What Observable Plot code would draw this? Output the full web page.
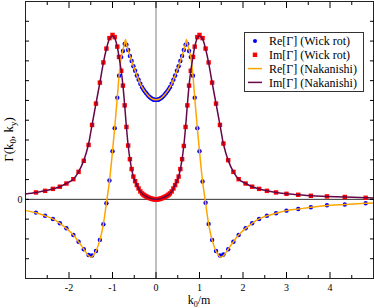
<!DOCTYPE html>
<html><head><meta charset="utf-8">
<script src="https://cdn.jsdelivr.net/npm/d3@7"></script>
<script src="https://cdn.jsdelivr.net/npm/@observablehq/plot@0.6"></script>
<style>html,body{margin:0;padding:0;background:#fff;}svg{display:block;}svg text{font-family:'Liberation Serif','Times New Roman',serif;}</style>
</head><body><div id="chart"></div>
<script>
// Wick-rotation points (k0/m, Re, Im)
const wickK = [-2.76, -2.55, -2.37, -2.21, -2.06, -1.90, -1.78, -1.66, -1.55, -1.47, -1.38, -1.29, -1.21, -1.14, -1.07, -1.00, -0.95, -0.89, -0.85, -0.80, -0.76, -0.72, -0.68, -0.64, -0.60, -0.56, -0.52, -0.48, -0.44, -0.40, -0.36, -0.32, -0.29, -0.26, -0.23, -0.20, -0.17, -0.14, -0.11, -0.08, -0.06, -0.04, -0.02,
  0, 0.02, 0.04, 0.06, 0.08, 0.11, 0.14, 0.17, 0.20, 0.23, 0.26, 0.29, 0.32, 0.36, 0.40, 0.44, 0.48, 0.52, 0.56, 0.60, 0.64, 0.68, 0.72, 0.76, 0.80, 0.85, 0.89, 0.95, 1.00, 1.07, 1.14, 1.21, 1.29, 1.38, 1.47, 1.55, 1.66, 1.78, 1.90, 2.06, 2.21, 2.37, 2.55, 2.76, 3.00, 3.27, 3.56, 3.93, 4.34, 4.82];
const wickRe = [-0.67, -0.83, -0.99, -1.21, -1.46, -1.80, -2.14, -2.52, -2.81, -2.84, -2.61, -2.05, -1.26, -0.20, 0.95, 2.43, 3.60, 5.14, 6.25, 7.19, 7.50, 7.85, 7.82, 7.55, 7.25, 6.99, 6.73, 6.50, 6.26, 6.05, 5.84, 5.67, 5.56, 5.46, 5.38, 5.30, 5.22, 5.16, 5.11, 5.07, 5.05, 5.04, 5.03,
  5.03, 5.03, 5.04, 5.05, 5.07, 5.11, 5.16, 5.22, 5.30, 5.38, 5.46, 5.56, 5.67, 5.84, 6.05, 6.26, 6.50, 6.73, 6.99, 7.25, 7.55, 7.82, 7.85, 7.50, 7.19, 6.25, 5.14, 3.60, 2.43, 0.90, -0.17, -1.24, -2.05, -2.61, -2.84, -2.79, -2.52, -2.14, -1.80, -1.46, -1.21, -0.99, -0.83, -0.70, -0.57, -0.49, -0.40, -0.30, -0.26, -0.20];
const wickIm = [0.35, 0.43, 0.53, 0.64, 0.80, 1.02, 1.39, 1.95, 2.75, 3.76, 4.84, 5.90, 6.92, 7.62, 8.15, 8.31, 8.20, 7.72, 7.20, 6.50, 5.75, 4.75, 3.66, 2.72, 2.03, 1.53, 1.15, 0.92, 0.72, 0.55, 0.40, 0.30, 0.24, 0.19, 0.15, 0.12, 0.09, 0.06, 0.04, 0.02, 0.01, 0.01, 0.00,
  0.00, 0.00, 0.01, 0.01, 0.02, 0.04, 0.06, 0.09, 0.12, 0.15, 0.19, 0.24, 0.30, 0.40, 0.55, 0.72, 0.92, 1.15, 1.53, 2.03, 2.70, 3.66, 4.75, 5.75, 6.50, 7.20, 7.72, 8.20, 8.31, 8.15, 7.62, 6.92, 5.90, 4.84, 3.76, 2.82, 1.98, 1.39, 1.02, 0.80, 0.64, 0.53, 0.43, 0.35, 0.28, 0.23, 0.18, 0.15, 0.12, 0.08];

// Nakanishi curves
const nakK = [-3.00, -2.76, -2.55, -2.37, -2.21, -2.06, -1.90, -1.78, -1.66, -1.55, -1.50, -1.47, -1.38, -1.29, -1.21, -1.14, -1.07, -1.00, -0.95, -0.89, -0.85, -0.80, -0.76, -0.72, -0.70, -0.68, -0.64, -0.60, -0.56, -0.52, -0.48, -0.44, -0.40, -0.36, -0.32, -0.26, -0.20, -0.14, -0.08,
  0,
  0.08, 0.14, 0.20, 0.26, 0.32, 0.36, 0.40, 0.44, 0.48, 0.52, 0.56, 0.60, 0.64, 0.68, 0.70, 0.72, 0.76, 0.80, 0.85, 0.89, 0.95, 1.00, 1.07, 1.14, 1.21, 1.29, 1.38, 1.47, 1.50, 1.55, 1.66, 1.78, 1.90, 2.06, 2.21, 2.37, 2.55, 2.76, 3.00, 3.27, 3.56, 3.93, 4.34, 4.82, 5.00];
const nakRe = [-0.57, -0.68, -0.83, -0.99, -1.21, -1.47, -1.80, -2.14, -2.52, -2.85, -2.92, -2.90, -2.62, -2.05, -1.25, -0.18, 0.92, 2.43, 3.62, 5.14, 6.22, 7.19, 7.55, 7.90, 8.08, 7.85, 7.55, 7.25, 6.99, 6.73, 6.50, 6.26, 6.05, 5.84, 5.67, 5.46, 5.30, 5.16, 5.07,
  5.03,
  5.07, 5.16, 5.30, 5.46, 5.67, 5.84, 6.05, 6.26, 6.50, 6.73, 6.99, 7.25, 7.55, 7.85, 8.08, 7.90, 7.55, 7.19, 6.22, 5.14, 3.62, 2.43, 0.92, -0.18, -1.25, -2.05, -2.62, -2.90, -2.92, -2.85, -2.52, -2.14, -1.80, -1.47, -1.21, -0.99, -0.83, -0.70, -0.57, -0.49, -0.40, -0.31, -0.26, -0.20, -0.18];
const nakIm = [0.27, 0.35, 0.43, 0.53, 0.64, 0.80, 1.02, 1.39, 1.97, 2.80, 3.40, 3.76, 4.84, 5.90, 6.90, 7.60, 8.10, 8.25, 8.15, 7.70, 7.20, 6.50, 5.75, 4.75, 4.20, 3.66, 2.72, 2.03, 1.53, 1.15, 0.92, 0.72, 0.55, 0.40, 0.30, 0.19, 0.12, 0.06, 0.02,
  0.00,
  0.02, 0.06, 0.12, 0.19, 0.30, 0.40, 0.55, 0.72, 0.92, 1.15, 1.53, 2.03, 2.72, 3.66, 4.20, 4.75, 5.75, 6.50, 7.20, 7.70, 8.15, 8.25, 8.10, 7.60, 6.90, 5.90, 4.84, 3.76, 3.40, 2.80, 1.97, 1.39, 1.02, 0.80, 0.64, 0.53, 0.43, 0.35, 0.28, 0.23, 0.18, 0.15, 0.12, 0.08, 0.07];

const xMajorTicks = [-2, -1, 0, 1, 2, 3, 4];
const xMinorTicks = [-2.5, -1.5, -0.5, 0.5, 1.5, 2.5, 3.5, 4.5];
const xTickLabels = [-2, -1, 0, 1, 2, 3, 4];
const yTicks = [-3, -2, -1, 0, 1, 2, 3, 4, 5, 6, 7, 8, 9];
const yTickLabels = [0];
const legendLabels = ["Re[Γ] (Wick rot)", "Im[Γ] (Wick rot)", "Re[Γ] (Nakanishi)", "Im[Γ] (Nakanishi)"];
const colors = {re: "#0000ff", im: "#ff0000", nakRe: "#ffa500", nakIm: "#670748"};

const wick = wickK.map((k, i) => ({k, re: wickRe[i], im: wickIm[i]}));
const nak = nakK.map((k, i) => ({k, re: nakRe[i], im: nakIm[i]}));

const font = "'Liberation Serif', 'Times New Roman', serif";
const noText = () => "";

const plot = Plot.plot({
  width: 374, height: 308,
  marginLeft: 25, marginRight: 1, marginTop: 1, marginBottom: 30,
  x: {domain: [-3, 5]},
  y: {domain: [-4, 10]},
  style: {fontFamily: font, fontSize: "10px", color: "black", background: "white", overflow: "visible"},
  marks: [
    Plot.ruleY([0], {stroke: "#333", strokeWidth: 1}),
    Plot.ruleX([0], {stroke: "#808080", strokeWidth: 1}),
    Plot.dot(wick, {x: "k", y: "re", r: 2.2, fill: colors.re, stroke: "none"}),
    Plot.dot(wick, {x: "k", y: "im", r: 2.5, symbol: "square", fill: colors.im, stroke: "none"}),
    Plot.line(nak, {x: "k", y: "re", stroke: colors.nakRe, strokeWidth: 1.5, curve: "catmull-rom"}),
    Plot.line(nak, {x: "k", y: "im", stroke: colors.nakIm, strokeWidth: 1.5, curve: "catmull-rom"}),
    Plot.frame({stroke: "#222"}),
    Plot.axisX(xMajorTicks, {anchor: "bottom", tickSize: -6, tickFormat: noText, label: null}),
    Plot.axisX(xMinorTicks, {anchor: "bottom", tickSize: -3, tickFormat: noText, label: null}),
    Plot.axisX(xMajorTicks, {anchor: "top", tickSize: -6, tickFormat: noText, label: null}),
    Plot.axisX(xMinorTicks, {anchor: "top", tickSize: -3, tickFormat: noText, label: null}),
    Plot.axisX(xTickLabels, {anchor: "bottom", tickSize: 0, tickPadding: 5, tickFormat: d => String(d), label: null, fontSize: 10}),
    Plot.axisY(yTicks, {anchor: "left", tickSize: -4, tickFormat: noText, label: null}),
    Plot.axisY(yTicks, {anchor: "right", tickSize: -4, tickFormat: noText, label: null}),
    Plot.axisY(yTickLabels, {anchor: "left", tickSize: 0, tickPadding: 3, tickFormat: d => String(d), label: null, fontSize: 10})
  ]
});
document.getElementById("chart").appendChild(plot);

const svg = d3.select(plot);
// axis titles with subscripts
const xl = svg.append("text").attr("x", 199).attr("y", 303.5).attr("text-anchor", "middle")
  .attr("font-family", font).attr("font-size", 12).attr("fill", "black");
xl.append("tspan").text("k");
xl.append("tspan").attr("dy", 3).attr("font-size", 8).text("0");
xl.append("tspan").attr("dy", -3).text("/m");

const yl = svg.append("text").attr("transform", "translate(12.5,139.5) rotate(-90)").attr("text-anchor", "middle")
  .attr("font-family", font).attr("font-size", 13).attr("fill", "black");
yl.append("tspan").text("Γ(k");
yl.append("tspan").attr("dy", 3).attr("font-size", 9).text("0");
yl.append("tspan").attr("dy", -3).text(", k");
yl.append("tspan").attr("dy", 3).attr("font-size", 9).text("y");
yl.append("tspan").attr("dy", -3).text(")");

// legend
const lg = svg.append("g").attr("font-family", font).attr("font-size", 12).attr("text-anchor", "start");
lg.append("rect").attr("x", 244.5).attr("y", 32.5).attr("width", 119).attr("height", 59)
  .attr("fill", "white").attr("stroke", "#333").attr("stroke-width", 1);
const rowY = i => 41 + i * 13.8;
lg.append("circle").attr("cx", 255).attr("cy", rowY(0)).attr("r", 2).attr("fill", colors.re);
lg.append("rect").attr("x", 252.8).attr("y", rowY(1) - 2.2).attr("width", 4.4).attr("height", 4.4).attr("fill", colors.im);
lg.append("line").attr("x1", 248).attr("x2", 262).attr("y1", rowY(2)).attr("y2", rowY(2)).attr("stroke", colors.nakRe).attr("stroke-width", 1.5);
lg.append("line").attr("x1", 248).attr("x2", 262).attr("y1", rowY(3)).attr("y2", rowY(3)).attr("stroke", colors.nakIm).attr("stroke-width", 1.5);
legendLabels.forEach((t, i) => {
  lg.append("text").attr("x", 269).attr("y", rowY(i)).attr("dy", "0.35em").attr("text-anchor", "start").attr("fill", "black").text(t);
});
</script>
</body></html>
